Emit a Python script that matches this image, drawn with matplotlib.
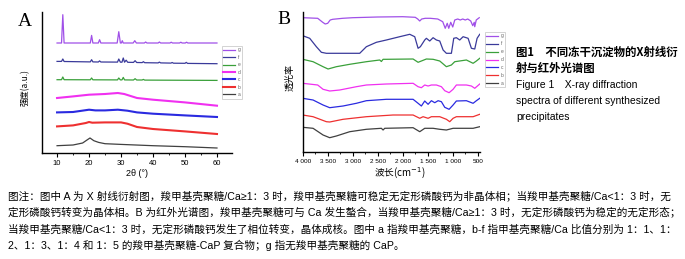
import matplotlib
matplotlib.use("Agg")
import matplotlib.pyplot as plt
from matplotlib.ticker import MultipleLocator

plt.rcParams['font.family'] = ['Liberation Sans', 'Noto Sans CJK SC', 'DejaVu Sans']
CJK = ['Noto Sans CJK SC', 'DejaVu Sans']
MIX = ['Liberation Sans', 'Noto Sans CJK SC', 'DejaVu Sans']

labels = ['g', 'f', 'e', 'd', 'c', 'b', 'a']
colors = ['#a050e8', '#3a3a9a', '#3aa03a', '#f030f0', '#2a2ae0', '#ee3030', '#404040']

# ---- panel A: XRD, 2theta (deg) vs intensity (a.u., offset stacked)
tt_g = [10, 11.4, 11.8, 12.2, 13, 20.4, 20.8, 21.2, 22.9, 23.3, 23.7, 28.8, 29.3, 29.8, 30.1, 30.4, 30.7,
        33.8, 34.3, 34.8, 37.3, 37.7, 38.1, 41.6, 42, 42.4, 45.3, 45.7, 46.1, 48.3, 48.7, 49.1, 50.1, 50.5, 50.9, 60]
I_g = [109.7, 109.7, 138, 109.7, 109.7, 109.7, 117.3, 109.7, 109.7, 113, 109.7, 109.7, 121, 109.7, 109.7, 112, 109.7,
       109.7, 112, 109.7, 109.7, 110.7, 109.7, 109.7, 110.7, 109.7, 109.7, 110.5, 109.7, 109.7, 110.5, 109.7, 109.7, 110.5, 109.7, 109.7]

tt_f = [10, 11.4, 11.8, 12.2, 20.4, 20.8, 21.2, 22.9, 23.3, 23.7, 28.9, 29.3, 29.8, 30.3, 30.7, 31.1, 31.6, 32.1,
        33.9, 34.4, 34.9, 36.6, 37, 37.4, 41.6, 42, 42.4, 45.6, 46, 46.4, 50, 50.4, 50.8, 60]
I_f = [91.3, 91.3, 93.7, 91.2, 90.8, 93, 90.8, 90.7, 91.8, 90.7, 90.6, 93.7, 90.5, 90.5, 94.7, 90.5, 92.5, 90.4,
       90.3, 92, 90.2, 90.1, 91, 90, 89.8, 90.6, 89.8, 89.6, 90.2, 89.5, 89.4, 90.3, 89.3, 89]

tt_e = [10, 11.4, 11.8, 12.2, 20.4, 20.8, 21.2, 28.9, 29.3, 29.8, 30.3, 30.7, 31.1, 33.9, 34.4, 34.9, 36.6, 37, 37.4, 60]
I_e = [73, 73, 75.7, 73, 72.9, 74.7, 72.9, 72.8, 74.7, 72.8, 72.8, 75.3, 72.8, 72.7, 74, 72.7, 72.7, 73.3, 72.6, 72.3]

tt_d = [10, 15, 20, 25, 29, 31, 35, 40, 50, 60]
I_d = [54.7, 56.3, 58, 58.7, 59.7, 58.7, 54.7, 53, 50.3, 47]

tt_c = [10, 15, 20, 22, 25, 29, 32, 35, 40, 50, 60]
I_c = [40.3, 40.7, 43, 42.3, 42.3, 43, 42, 40.3, 39, 37.3, 35.7]

tt_b = [10, 15, 19, 20, 21, 25, 30, 32, 35, 40, 50, 60]
I_b = [26.3, 27.3, 29.7, 30.7, 30, 30.3, 30.3, 29, 25.7, 23.7, 21.3, 18.7]

tt_a = [10, 15, 18, 19.5, 20.3, 21.5, 23, 25, 30, 40, 50, 60]
I_a = [7, 7.7, 9.7, 13, 14.7, 12, 10.3, 9, 8.3, 7, 6, 4.7]

# ---- panel B: FTIR, wavenumber (cm-1) vs transmittance (offset stacked)
wn_g = [4000, 3700, 3600, 3550, 3500, 3450, 3400, 3200, 3000, 2500, 2000, 1750, 1700, 1660, 1620, 1550, 1450,
        1300, 1200, 1150, 1110, 1080, 1040, 1000, 960, 900, 850, 800, 750, 700, 640, 600, 570, 560, 530, 470]
T_g = [134.3, 133.7, 129.7, 128, 128.7, 132, 132.7, 133.7, 134.3, 135, 135.3, 134.7, 133, 131, 133, 133.7, 133.7,
       133, 130.3, 123.7, 128.7, 123.7, 129.7, 125, 132, 133, 132, 133, 132, 133, 131, 126.3, 129.7, 125.3, 132, 134.3]

wn_f = [4000, 3860, 3727, 3627, 3527, 3260, 2860, 2727, 2527, 2327, 2060, 1860, 1760, 1693, 1647, 1560, 1527,
        1460, 1393, 1327, 1260, 1193, 1127, 1027, 980, 927, 860, 793, 693, 627, 560, 513, 460]
T_f = [116.3, 113.7, 105.3, 99.7, 98.7, 98.7, 98.7, 105.3, 109.7, 112, 115.3, 117.7, 115.3, 103.7, 105.3, 112, 113.7,
       111, 114.3, 112, 111, 102, 98.7, 98.7, 113.7, 114.3, 112, 115.3, 113.7, 103.7, 103, 113.7, 117.7]

wn_e = [4000, 3793, 3593, 3493, 3327, 3060, 2727, 2460, 2427, 2393, 2327, 1793, 1693, 1627, 1527, 1393, 1260,
        1127, 1027, 960, 727, 593, 527, 460]
T_e = [92.7, 90.3, 85.3, 83, 85.3, 87.7, 90.3, 92, 90.5, 92.7, 92.7, 93, 89.7, 91, 93, 92.7, 91,
       85.3, 87, 90.3, 92, 88.7, 91, 93.7]

wn_d = [4000, 3700, 3593, 3460, 3260, 2927, 2727, 2327, 1793, 1693, 1627, 1560, 1493, 1427, 1327, 1227, 1160,
        1073, 993, 927, 727, 627, 560, 460]
T_d = [68.7, 67, 62.7, 61, 62, 65.3, 67, 68, 68.7, 65.3, 64.3, 67, 66, 67, 67, 65.3, 61.3,
       59.3, 62.7, 67, 67, 66, 63.7, 68]

wn_c = [4000, 3793, 3593, 3460, 3193, 2927, 2727, 2327, 1793, 1693, 1627, 1560, 1493, 1427, 1360, 1293, 1227,
        1160, 1073, 993, 927, 727, 593, 527, 460]
T_c = [53.7, 52, 47, 44.3, 46, 48.7, 51.3, 52.7, 52.7, 48.7, 46, 51, 47.7, 51.3, 49.3, 51.3, 50.3,
       44.7, 42.7, 47, 51, 51.3, 48.7, 51.3, 53.7]

wn_b = [4000, 3793, 3527, 3460, 3193, 2727, 2193, 1793, 1660, 1593, 1493, 1427, 1260, 1127, 1060, 993, 927,
        727, 593, 460]
T_b = [37, 35.3, 30.3, 30, 32.7, 35.3, 37, 37, 33.7, 35.3, 33.7, 35.3, 35.3, 32.7, 30.3, 33.7, 35.3,
       35.3, 35.3, 37.7]

wn_a = [4000, 3793, 3593, 3460, 3327, 3060, 2727, 2427, 2393, 2360, 1793, 1660, 1560, 1393, 1260, 1127, 993,
        593, 460]
T_a = [24.7, 23.7, 17, 14.3, 16, 20.3, 22.7, 23.7, 22, 23.7, 24.3, 20.3, 23.7, 23.7, 22.7, 22, 23.7,
       23.7, 25.3]

W, H = 685, 259
fig = plt.figure(figsize=(W / 100, H / 100), dpi=100)
fig.patch.set_facecolor('white')


def fx(px):
    return px / W


def fy(py):
    return 1 - py / H


axA = fig.add_axes([fx(41.7), fy(152.7), fx(232 - 41.7), (152.7 - 12) / H])
axB = fig.add_axes([fx(302.7), fy(152), fx(480 - 302.7), (152 - 12) / H])

xrd = [(tt_g, I_g), (tt_f, I_f), (tt_e, I_e), (tt_d, I_d), (tt_c, I_c), (tt_b, I_b), (tt_a, I_a)]
lw_A = [0.9, 0.9, 0.9, 1.5, 1.5, 1.5, 0.9]
hA = []
for (x, y), lab, c, lw in zip(xrd, labels, colors, lw_A):
    ln, = axA.plot(x, y, color=c, lw=lw, label=lab, solid_joinstyle='round')
    hA.append(ln)

ftir = [(wn_g, T_g), (wn_f, T_f), (wn_e, T_e), (wn_d, T_d), (wn_c, T_c), (wn_b, T_b), (wn_a, T_a)]
hB = []
for (x, y), lab, c in zip(ftir, labels, colors):
    ln, = axB.plot(x, y, color=c, lw=0.9, label=lab, solid_joinstyle='round')
    hB.append(ln)

axA.set_xlim(5.2, 64.7)
axA.set_ylim(0, 140.7)
axA.xaxis.set_major_locator(MultipleLocator(10))
axA.xaxis.set_minor_locator(MultipleLocator(5))

axB.set_xlim(4000, 455)
axB.set_ylim(0, 140)
axB.set_xticks([4000, 3500, 3000, 2500, 2000, 1500, 1000, 500])
axB.set_xticklabels(['4 000', '3 500', '3 000', '2 500', '2 000', '1 500', '1 000', '500'])
axB.xaxis.set_minor_locator(MultipleLocator(250))

for ax in (axA, axB):
    for s in ('top', 'right'):
        ax.spines[s].set_visible(False)
    ax.spines['left'].set_linewidth(1.0)
    ax.spines['bottom'].set_linewidth(1.0)
    ax.set_yticks([])
    ax.tick_params(axis='x', which='major', direction='out', length=3, width=0.8, pad=2)
    ax.tick_params(axis='x', which='minor', direction='out', length=1.5, width=0.6)
    ax.set_facecolor('none')

axA.tick_params(axis='x', labelsize=5.5)
axB.tick_params(axis='x', labelsize=4.6)

legA = axA.legend(handles=hA, loc='upper left', bbox_to_anchor=(fx(222), fy(46)),
                  bbox_transform=fig.transFigure, fontsize=3.5, frameon=True, fancybox=False,
                  edgecolor='#c0c0c0', borderpad=0.3, handlelength=2.4, handletextpad=0.5,
                  labelspacing=0.5, borderaxespad=0)
legA.get_frame().set_linewidth(0.6)
for t in legA.get_texts():
    t.set_color('#666666')

legB = axB.legend(handles=hB, loc='upper left', bbox_to_anchor=(fx(485), fy(32)),
                  bbox_transform=fig.transFigure, fontsize=3.5, frameon=True, fancybox=False,
                  edgecolor='#c0c0c0', borderpad=0.3, handlelength=2.4, handletextpad=0.5,
                  labelspacing=0.6, borderaxespad=0)
legB.get_frame().set_linewidth(0.6)
for t in legB.get_texts():
    t.set_color('#666666')

# panel letters and axis labels
fig.text(fx(25), fy(21), 'A', fontsize=14, family='Liberation Serif', ha='center', va='center')
fig.text(fx(284), fy(20), 'B', fontsize=14, family='Liberation Serif', ha='center', va='center')
fig.text(fx(25), fy(88), '强度(a.u.)', fontsize=6, family=CJK, rotation=90, ha='center', va='center')
fig.text(fx(290), fy(77), '透光率', fontsize=6.5, family=CJK, rotation=90, ha='center', va='center')
fig.text(fx(137), fy(173), '2θ (°)', fontsize=6.5, ha='center', va='center')
fig.text(fx(400), fy(173), '波长(cm$^{-1}$)', fontsize=7, family=CJK, ha='center', va='center')

# figure title at right
fig.text(fx(516), fy(52), '图1　不同冻干沉淀物的X射线衍', fontsize=8.2, family=CJK, weight='bold', va='center')
fig.text(fx(516), fy(68), '射与红外光谱图', fontsize=8.2, family=CJK, weight='bold', va='center')
fig.text(fx(516), fy(85), 'Figure 1　X-ray diffraction', fontsize=7.45, family=MIX, va='center')
fig.text(fx(516), fy(101), 'spectra of different synthesized', fontsize=7.45, family=MIX, va='center')
fig.text(fx(516), fy(117), 'precipitates', fontsize=7.45, family=MIX, va='center')

caption = [
    '图注：图中 A 为 X 射线衍射图，羧甲基壳聚糖/Ca≥1：3 时，羧甲基壳聚糖可稳定无定形磷酸钙为非晶体相；当羧甲基壳聚糖/Ca<1：3 时，无',
    '定形磷酸钙转变为晶体相。B 为红外光谱图，羧甲基壳聚糖可与 Ca 发生螯合，当羧甲基壳聚糖/Ca≥1：3 时，无定形磷酸钙为稳定的无定形态；',
    '当羧甲基壳聚糖/Ca<1：3 时，无定形磷酸钙发生了相位转变，晶体成核。图中 a 指羧甲基壳聚糖，b-f 指甲基壳聚糖/Ca 比值分别为 1：1、1：',
    '2、1：3、1：4 和 1：5 的羧甲基壳聚糖-CaP 复合物；g 指无羧甲基壳聚糖的 CaP。',
]
for i, line in enumerate(caption):
    fig.text(fx(8), fy(196 + 16.6 * i), line, fontsize=7.62, family=MIX, va='center')

fig.savefig('out.png', dpi=100, facecolor='white')
